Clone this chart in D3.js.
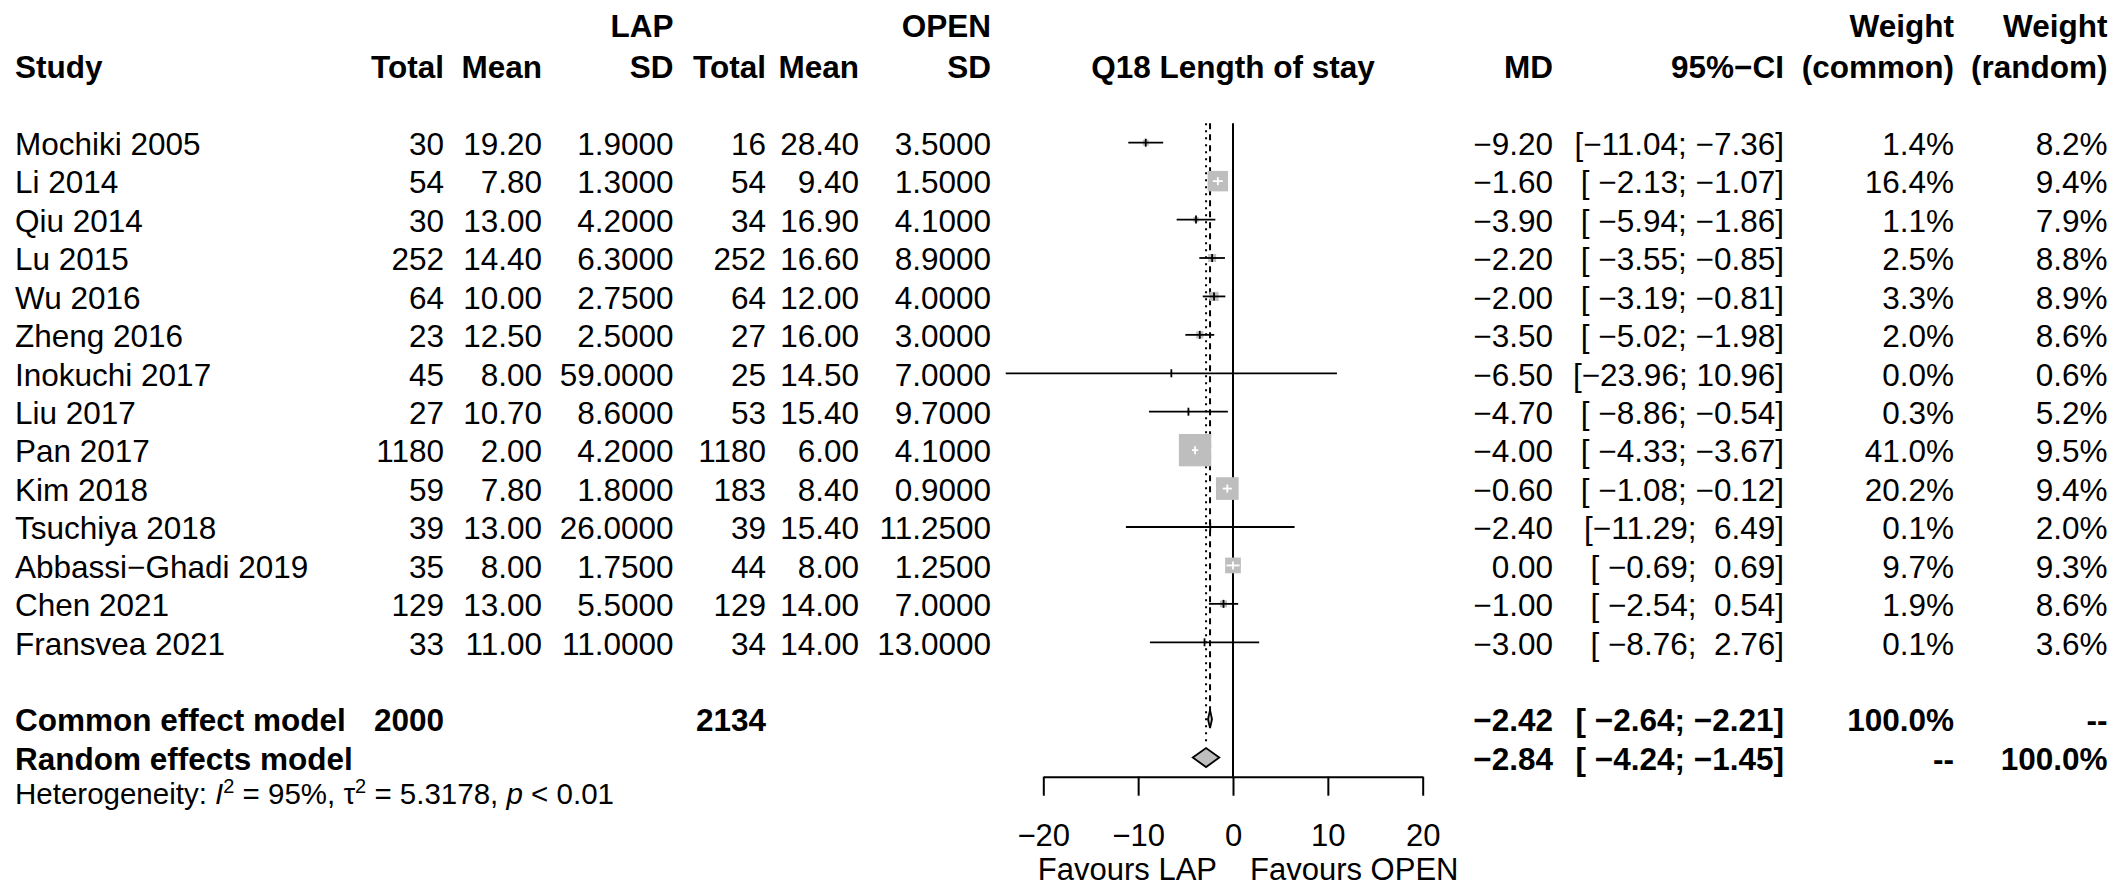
<!DOCTYPE html>
<html>
<head>
<meta charset="utf-8">
<script src="https://cdn.jsdelivr.net/npm/d3@7"></script>
<style>
  html, body { margin: 0; padding: 0; background: #fff; }
  svg { display: block; }
  text { font-family: "Liberation Sans", Arial, Helvetica, sans-serif; white-space: pre; fill: #000; }
</style>
</head>
<body>
<svg id="chart" width="2115" height="887"></svg>
<script>
// ---------------- data ----------------
const studies = ["Mochiki 2005", "Li 2014", "Qiu 2014", "Lu 2015", "Wu 2016", "Zheng 2016",
  "Inokuchi 2017", "Liu 2017", "Pan 2017", "Kim 2018", "Tsuchiya 2018",
  "Abbassi\u2212Ghadi 2019", "Chen 2021", "Fransvea 2021"];
const lapTotal  = [30, 54, 30, 252, 64, 23, 45, 27, 1180, 59, 39, 35, 129, 33];
const lapMean   = [19.20, 7.80, 13.00, 14.40, 10.00, 12.50, 8.00, 10.70, 2.00, 7.80, 13.00, 8.00, 13.00, 11.00];
const lapSD     = [1.9, 1.3, 4.2, 6.3, 2.75, 2.5, 59.0, 8.6, 4.2, 1.8, 26.0, 1.75, 5.5, 11.0];
const openTotal = [16, 54, 34, 252, 64, 27, 25, 53, 1180, 183, 39, 44, 129, 34];
const openMean  = [28.40, 9.40, 16.90, 16.60, 12.00, 16.00, 14.50, 15.40, 6.00, 8.40, 15.40, 8.00, 14.00, 14.00];
const openSD    = [3.5, 1.5, 4.1, 8.9, 4.0, 3.0, 7.0, 9.7, 4.1, 0.9, 11.25, 1.25, 7.0, 13.0];
const md        = [-9.20, -1.60, -3.90, -2.20, -2.00, -3.50, -6.50, -4.70, -4.00, -0.60, -2.40, 0.00, -1.00, -3.00];
const ciLower   = [-11.04, -2.13, -5.94, -3.55, -3.19, -5.02, -23.96, -8.86, -4.33, -1.08, -11.29, -0.69, -2.54, -8.76];
const ciUpper   = [-7.36, -1.07, -1.86, -0.85, -0.81, -1.98, 10.96, -0.54, -3.67, -0.12, 6.49, 0.69, 0.54, 2.76];
const weightCommon = [1.4, 16.4, 1.1, 2.5, 3.3, 2.0, 0.0, 0.3, 41.0, 20.2, 0.1, 9.7, 1.9, 0.1];
const weightRandom = [8.2, 9.4, 7.9, 8.8, 8.9, 8.6, 0.6, 5.2, 9.5, 9.4, 2.0, 9.3, 8.6, 3.6];

const summaryLabels = ["Common effect model", "Random effects model"];
const summaryMD     = [-2.42, -2.84];
const summaryLower  = [-2.64, -4.24];
const summaryUpper  = [-2.21, -1.45];
const summaryWeightCommon = ["100.0%", "--"];
const summaryWeightRandom = ["--", "100.0%"];
const summaryTotals = [2000, 2134];   // LAP, OPEN

const hetI2 = 95, hetTau2 = 5.3178, hetP = "< 0.01";
const tickValues = [-20, -10, 0, 10, 20];
const plotTitle = "Q18 Length of stay";
const favourLabels = ["Favours LAP", "Favours OPEN"];

// ---------------- layout ----------------
const svg = d3.select("#chart");
const FS = 31.5;
const rowBase0 = 155, rowStep = 38.43;      // baseline of first study row
const base = i => rowBase0 + rowStep * i;
const center = i => base(i) - 12.3;

const x = d3.scaleLinear().domain([-20, 20]).range([1043.3, 1422.7]);

const col = {
  study: 15, lapTotal: 444, lapMean: 542, lapSD: 673.5,
  openTotal: 766, openMean: 859, openSD: 991,
  md: 1553, ci: 1784, wc: 1954, wr: 2107.5
};

const f0 = d3.format("d"), f2 = d3.format(".2f"), f4 = d3.format(".4f"), f1 = d3.format(".1f");
const pad = (s, n) => s.padStart(n, " ");
const ciStr = (lo, hi) => "[" + pad(f2(lo), 6) + "; " + pad(f2(hi), 5) + "]";

function txt(xp, yp, s, anchor, bold, size) {
  return svg.append("text").attr("x", xp).attr("y", yp)
    .attr("text-anchor", anchor || "start")
    .attr("font-weight", bold ? "bold" : "normal")
    .attr("font-size", size || FS)
    .text(s);
}

// headers
const h1 = 36.7, h2 = 78.3;
txt(col.lapSD, h1, "LAP", "end", true);
txt(col.openSD, h1, "OPEN", "end", true);
txt(col.wc, h1, "Weight", "end", true);
txt(col.wr, h1, "Weight", "end", true);
txt(col.study, h2, "Study", "start", true);
txt(col.lapTotal, h2, "Total", "end", true);
txt(col.lapMean, h2, "Mean", "end", true);
txt(col.lapSD, h2, "SD", "end", true);
txt(col.openTotal, h2, "Total", "end", true);
txt(col.openMean, h2, "Mean", "end", true);
txt(col.openSD, h2, "SD", "end", true);
txt(x(0), h2, plotTitle, "middle", true);
txt(col.md, h2, "MD", "end", true);
txt(col.ci, h2, "95%\u2212CI", "end", true);
txt(col.wc, h2, "(common)", "end", true);
txt(col.wr, h2, "(random)", "end", true);

// study rows text
studies.forEach((s, i) => {
  const b = base(i);
  txt(col.study, b, s);
  txt(col.lapTotal, b, f0(lapTotal[i]), "end");
  txt(col.lapMean, b, f2(lapMean[i]), "end");
  txt(col.lapSD, b, f4(lapSD[i]), "end");
  txt(col.openTotal, b, f0(openTotal[i]), "end");
  txt(col.openMean, b, f2(openMean[i]), "end");
  txt(col.openSD, b, f4(openSD[i]), "end");
  txt(col.md, b, f2(md[i]), "end");
  txt(col.ci, b, ciStr(ciLower[i], ciUpper[i]), "end");
  txt(col.wc, b, f1(weightCommon[i]) + "%", "end");
  txt(col.wr, b, f1(weightRandom[i]) + "%", "end");
});

// summary rows text
summaryLabels.forEach((s, k) => {
  const b = base(15 + k);
  txt(col.study, b, s, "start", true);
  if (k === 0) {
    txt(col.lapTotal, b, f0(summaryTotals[0]), "end", true);
    txt(col.openTotal, b, f0(summaryTotals[1]), "end", true);
  }
  txt(col.md, b, f2(summaryMD[k]), "end", true);
  txt(col.ci, b, ciStr(summaryLower[k], summaryUpper[k]), "end", true);
  txt(col.wc, b, summaryWeightCommon[k], "end", true);
  txt(col.wr, b, summaryWeightRandom[k], "end", true);
});

// heterogeneity
const het = svg.append("text").attr("x", col.study).attr("y", 804).attr("font-size", 29.5);
het.append("tspan").text("Heterogeneity: ");
het.append("tspan").attr("font-style", "italic").text("I");
het.append("tspan").attr("font-size", 20).attr("dy", -11).text("2");
het.append("tspan").attr("dy", 11).text(" = " + hetI2 + "%, \u03c4");
het.append("tspan").attr("font-size", 20).attr("dy", -11).text("2");
het.append("tspan").attr("dy", 11).text(" = " + d3.format(".4f")(hetTau2) + ", ");
het.append("tspan").attr("font-style", "italic").text("p");
het.append("tspan").text(" " + hetP);

// ---------------- plot ----------------
const yTop = 123.3, yAxis = 776.7;
const g = svg.append("g");
g.append("line").attr("x1", x(0)).attr("x2", x(0)).attr("y1", yTop).attr("y2", yAxis)
  .attr("stroke", "#000").attr("stroke-width", 2);
g.append("line").attr("x1", x(summaryMD[0])).attr("x2", x(summaryMD[0]))
  .attr("y1", yTop).attr("y2", center(15) + 9)
  .attr("stroke", "#000").attr("stroke-width", 2).attr("stroke-dasharray", "6,5");
g.append("line").attr("x1", x(summaryMD[1])).attr("x2", x(summaryMD[1]))
  .attr("y1", yTop).attr("y2", center(16) - 16)
  .attr("stroke", "#000").attr("stroke-width", 2).attr("stroke-dasharray", "2,5");

const sq = w => 5.05 * Math.sqrt(w);
studies.forEach((s, i) => {
  const yc = center(i);
  const side = sq(weightCommon[i]);
  const xl = x(ciLower[i]), xh = x(ciUpper[i]), xe = x(md[i]);
  const inside = (xh - xl) < side;
  if (side > 0) {
    g.append("rect").attr("x", xe - side / 2).attr("y", yc - side / 2)
      .attr("width", side).attr("height", side).attr("fill", "#BEBEBE");
  }
  const c = inside ? "#fff" : "#000";
  g.append("line").attr("x1", xl).attr("x2", xh).attr("y1", yc).attr("y2", yc)
    .attr("stroke", c).attr("stroke-width", 1.8);
  g.append("line").attr("x1", xe).attr("x2", xe).attr("y1", yc - 4).attr("y2", yc + 4)
    .attr("stroke", c).attr("stroke-width", 1.8);
});

// diamonds
[18, 19].forEach((h, k) => {
  const yc = center(15 + k);
  const pts = [[x(summaryLower[k]), yc], [x(summaryMD[k]), yc - h / 2],
               [x(summaryUpper[k]), yc], [x(summaryMD[k]), yc + h / 2]];
  g.append("polygon").attr("points", pts.map(p => p.join(",")).join(" "))
    .attr("fill", "#BEBEBE").attr("stroke", "#000").attr("stroke-width", 1.8);
});

// axis
const axis = d3.axisBottom(x).tickValues(tickValues).tickSize(19).tickSizeOuter(0).tickPadding(28.5)
  .tickFormat(d3.format("d"));
const ax = svg.append("g").attr("transform", `translate(0,${yAxis})`).call(axis);
ax.select(".domain").attr("stroke", "#000").attr("stroke-width", 2);
ax.selectAll(".tick line").attr("stroke", "#000").attr("stroke-width", 2);
ax.selectAll(".tick text").attr("font-size", 31).attr("fill", "#000")
  .attr("font-family", '"Liberation Sans", Arial, sans-serif');

txt(x(0) - 16, 879.5, favourLabels[0], "end", false, 31);
txt(x(0) + 17, 879.5, favourLabels[1], "start", false, 31);
</script>
</body>
</html>
